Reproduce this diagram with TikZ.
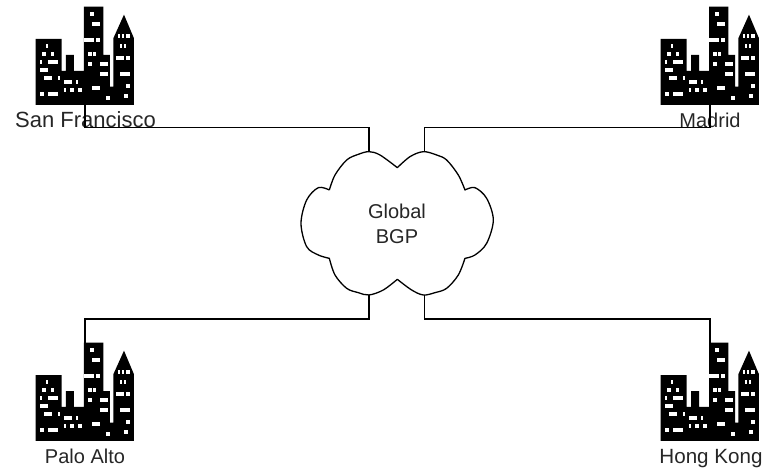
\documentclass[tikz,border=0pt]{standalone}
\usepackage{fontspec}
\setmainfont{Liberation Sans}
\tikzset{
  x=1pt,y=-1pt,
  wire/.style={line width=1.3pt,line join=miter},
  cloudline/.style={line width=1.3pt,line join=round},
  label/.style={font=\fontsize{20}{24}\selectfont,inner sep=0pt,anchor=base,text=black!85},
  pics/city/.style={code={
    \begin{scope}[x=0.3333pt,y=-0.3333pt]
    \fill[black] (47,315) -- (47,117) -- (125,117) -- (125,213) -- (138,213) -- (138,165) -- (162,165) -- (162,213) -- (192,213) -- (192,20) -- (250,20) -- (250,165) -- (270,165) -- (270,260) -- (280,260) -- (280,115) -- (312,44) -- (342,115) -- (342,315) -- cycle;
    \begin{scope}[shift={(-3,1)}]
    \foreach \a/\b/\c/\d in {213/35/225/47,219/66/243/78,195/114/225/126,231/114/243/126,207/155/219/167,222/155/231/167,207/185/219/197,243/185/267/197,243/215/267/227,219/257/243/269,261/287/273/299,
      81/132/87/144,69/155/81/167,96/155/105/167,63/180/69/192,87/180/117/192,63/204/87/216,75/228/99/240,117/228/123/240,63/276/75/288,87/276/117/288,
      135/240/159/252,171/240/177/252,135/264/141/276,153/264/165/276,177/264/189/276,
      297/102/303/114,309/102/315/114,321/102/333/114,303/132/309/144,315/132/321/144,291/168/315/180,321/168/333/180,303/216/333/228,321/252/333/264,315/282/327/294}
      \fill[white] (\a,\b) rectangle (\c,\d);
    \end{scope}
    \end{scope}
  }}
}
\begin{document}
\begin{tikzpicture}
\useasboundingbox (0,0) rectangle (765,471);
\pic at (20,0) {city};
\pic at (645,0) {city};
\pic at (20,336) {city};
\pic at (645,336) {city};
% cloud
\begin{scope}[shift={(290,120)},x=0.3333pt,y=-0.3333pt]
\draw[cloudline]
  plot[smooth,tension=0.55] coordinates {(118,210)(135,165)(170,120)(205,103)(237,95)(270,105)(322,143)}
  -- plot[smooth,tension=0.55] coordinates {(322,143)(360,110)(400,95)(440,105)(470,120)(505,165)(525,210)}
  -- plot[smooth,tension=0.55] coordinates {(525,210)(555,203)(590,235)(610,300)(590,370)(555,405)(525,415)}
  -- plot[smooth,tension=0.55] coordinates {(525,415)(505,465)(470,505)(435,518)(400,525)(365,510)(322,478)}
  -- plot[smooth,tension=0.55] coordinates {(322,478)(280,510)(237,525)(205,518)(170,505)(135,465)(118,415)}
  -- plot[smooth,tension=0.55] coordinates {(118,415)(85,405)(50,380)(33,310)(50,240)(85,203)(118,210)};
\coordinate (cnw) at (237,95);
\coordinate (cne) at (403,95);
\coordinate (csw) at (237,525);
\coordinate (cse) at (403,525);
\end{scope}
\node[label] (cloudA) at (397,218) {Global};
\node[label] (cloudB) at (397,243) {BGP};
% labels
\node[label,font=\fontsize{22}{24}\selectfont] (sf) at (85.5,127.5) {San Francisco};
\node[label] (md) at (710,127.5) {Madrid};
\node[label] (pa) at (85,463) {Palo Alto};
\node[label,font=\fontsize{20.6}{24}\selectfont] (hk) at (711,463) {Hong Kong};
% connector ends on the icons
\coordinate (csf) at (85,105);
\coordinate (cmd) at (710,105);
\coordinate (cpa) at (85,343);
\coordinate (chk) at (710,343);
\coordinate (bsf) at (85,127.5);
\coordinate (bmd) at (710,127.5);
\coordinate (bpa) at (85,319);
\coordinate (bhk) at (710,319);
\draw[wire] (csf) -- (bsf) -| (cnw);
\draw[wire] (cmd) -- (bmd) -| (cne);
\draw[wire] (cpa) -- (bpa) -| (csw);
\draw[wire] (chk) -- (bhk) -| (cse);
\end{tikzpicture}
\end{document}
